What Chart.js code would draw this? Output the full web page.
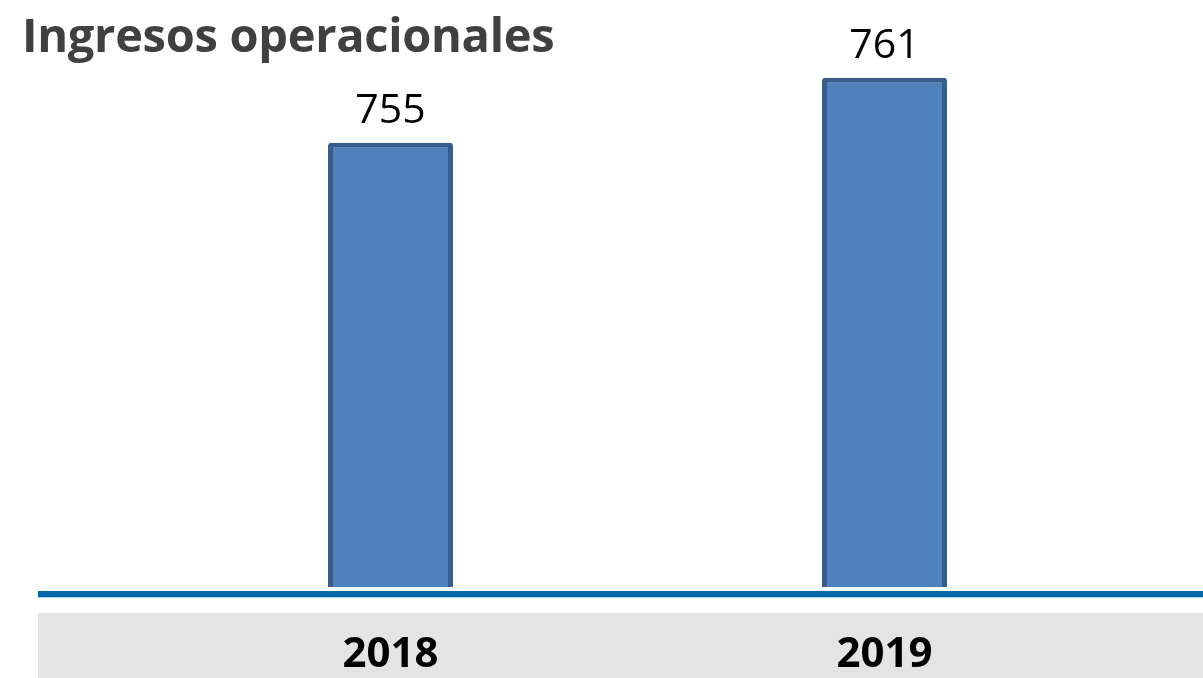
<!DOCTYPE html>
<html>
<head>
<meta charset="utf-8">
<script src="https://cdn.jsdelivr.net/npm/chart.js@4.4.1/dist/chart.umd.min.js"></script>
<style>
  html, body { margin: 0; padding: 0; background: #ffffff; }
  #wrap { position: relative; width: 1203px; height: 678px; overflow: hidden; }
  #title {
    position: absolute; left: 22px; top: 1px;
    font-family: "Open Sans", sans-serif; font-weight: 700; font-size: 47px;
    color: #404040; letter-spacing: -0.3px; white-space: nowrap; line-height: 66px;
  }
  canvas { position: absolute; left: 0; top: 0; }
</style>
</head>
<body>
<div id="wrap">
  <canvas id="chart" width="1203" height="678"></canvas>
  <div id="title">Ingresos operacionales</div>
</div>
<script>
// datos
const years = ["2018", "2019"];
const ingresos = [755, 761];

// --- decoracion: banda gris, linea azul, etiquetas ---
const decoPlugin = {
  id: "deco",
  beforeDraw(chart) {
    const ctx = chart.ctx;
    const area = chart.chartArea;
    ctx.save();
    // banda gris de categorias
    ctx.fillStyle = "#e4e4e4";
    ctx.fillRect(38, area.bottom + 26, chart.width - 38, chart.height - area.bottom - 26);
    // linea azul base
    ctx.fillStyle = "#0067a9";
    ctx.fillRect(38, area.bottom + 4, chart.width - 38, 6);
    ctx.fillStyle = "#a9d1ec";
    ctx.fillRect(38, area.bottom + 10, chart.width - 38, 1);
    ctx.restore();
  },
  afterDatasetsDraw(chart) {
    const ctx = chart.ctx;
    const meta = chart.getDatasetMeta(0);
    const xScale = chart.scales.x;
    ctx.save();
    ctx.textAlign = "center";
    ctx.textBaseline = "alphabetic";
    // valores sobre las barras
    ctx.font = "41px 'Open Sans', sans-serif";
    ctx.fillStyle = "#000000";
    meta.data.forEach((bar, i) => {
      ctx.fillText(String(ingresos[i]), bar.x, bar.y - 20);
    });
    // anios en la banda
    ctx.font = "bold 42px 'Open Sans', sans-serif";
    years.forEach((y, i) => {
      ctx.fillText(y, xScale.getPixelForValue(i), chart.chartArea.bottom + 80);
    });
    ctx.restore();
  }
};

new Chart(document.getElementById("chart"), {
  type: "bar",
  data: {
    labels: years,
    datasets: [{
      data: ingresos,
      backgroundColor: "#4f81bd",
      borderColor: "#385d8a",
      borderWidth: 5,
      borderRadius: 3,
      borderSkipped: false,
      categoryPercentage: 1,
      barPercentage: 0.253
    }]
  },
  options: {
    responsive: false,
    animation: false,
    layout: { padding: { left: 143.5, right: 71.5, top: 2, bottom: 91 } },
    plugins: {
      legend: { display: false },
      tooltip: { enabled: false },
      title: { display: false }
    },
    scales: {
      x: { display: false, offset: true },
      y: { display: false, min: 714, max: 768 }
    }
  },
  plugins: [decoPlugin]
});
</script>
</body>
</html>
